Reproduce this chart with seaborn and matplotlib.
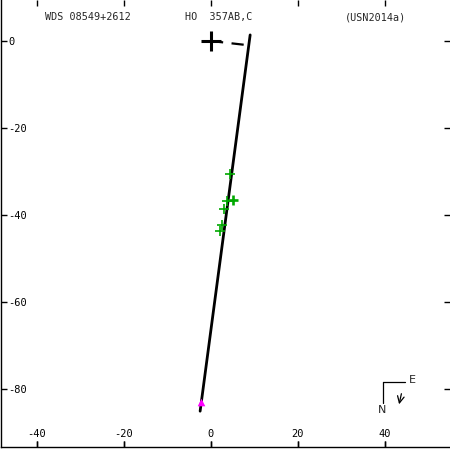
import matplotlib
matplotlib.use("Agg")
import matplotlib.pyplot as plt
import seaborn as sns
import pandas as pd

# ---- data (arcsec-like offsets) ----
orbit_x = [9.0, 0.9, -2.5]
orbit_y = [1.4, -59.5, -85.1]

node_x = [0.0, 8.8]
node_y = [0.0, -1.0]

obs_x = [4.4, 3.75, 3.0, 2.6, 2.1]
obs_y = [-30.6, -36.7, -38.6, -42.3, -43.7]
bold_x = [5.0]
bold_y = [-36.6]

last_x = [-2.3]
last_y = [-82.9]

xticks = [-40, -20, 0, 20, 40]
yticks = [0, -20, -40, -60, -80]

title_left = "WDS 08549+2612"
title_mid = "HO  357AB,C"
title_right = "(USN2014a)"

sns.set_theme(style="white", rc={"xtick.bottom": True, "ytick.left": True})
plt.rcParams["font.family"] = ["DejaVu Sans Mono", "DejaVu Sans"]
plt.rcParams["axes.unicode_minus"] = False

W = H = 450
fig = plt.figure(figsize=(4.5, 4.5), dpi=100)
ax = fig.add_axes([1 / W, 3 / H, 449 / W, 447 / H])


def fpx(x, y):
    """image pixel -> figure fraction"""
    return x / W, 1 - y / H


orbit = pd.DataFrame({"x": orbit_x, "y": orbit_y})
sns.lineplot(data=orbit, x="x", y="y", sort=False, estimator=None,
             color="black", lw=2.0, ax=ax)
ax.plot(node_x, node_y, color="black", lw=1.6, dashes=(5.5, 3.8))

sns.scatterplot(x=obs_x, y=obs_y, marker="+", s=50, color="#00a800",
                linewidth=1.2, ax=ax, zorder=4)
sns.scatterplot(x=bold_x, y=bold_y, marker="+", s=55, color="#00a800",
                linewidth=1.9, ax=ax, zorder=4)
sns.scatterplot(x=last_x, y=last_y, marker="^", s=30, color="#ff00ff",
                linewidth=0, ax=ax, zorder=5)
ax.plot([0], [0], marker="+", ms=15, mew=2.2, color="black", zorder=6)

# bottom tick marks drawn as a rug along the x axis (inward)
sns.rugplot(x=xticks, height=0.014, color="black", lw=1.0, ax=ax,
            clip_on=False, zorder=10)

ax.set_xlim((1 - 211) / 4.35, (450 - 211) / 4.35)
ax.set_ylim((41 - 447) / 4.35, 41 / 4.35)
ax.set_xticks(xticks)
ax.set_xticklabels([str(v) for v in xticks])
ax.set_yticks(yticks)
ax.set_yticklabels([str(v) for v in yticks])
ax.set_xlabel("")
ax.set_ylabel("")

for side in ["top", "right"]:
    ax.spines[side].set_visible(False)
for side in ["left", "bottom"]:
    ax.spines[side].set_color("black")
    ax.spines[side].set_linewidth(1.0)

ax.xaxis.set_ticks_position("both")
ax.yaxis.set_ticks_position("both")
ax.tick_params(axis="both", which="major", direction="in", length=4.5, width=1.0,
               color="black", labelsize=7.5, labelcolor="black")
ax.tick_params(axis="y", pad=-5)
ax.tick_params(axis="x", pad=-6)
for lab in ax.get_yticklabels():
    lab.set_horizontalalignment("left")
for lab in ax.get_xticklabels():
    lab.set_verticalalignment("bottom")

# header
fig.text(*fpx(45, 17), title_left, fontsize=7.3, ha="left", va="center")
fig.text(*fpx(185, 17), title_mid, fontsize=7.3, ha="left", va="center")
fig.text(*fpx(345, 17), title_right, fontsize=7.3, ha="left", va="center")

# compass
fig.add_artist(plt.Line2D(*zip(fpx(382.5, 381.5), fpx(405, 381.5)),
                          transform=fig.transFigure, color="black", lw=0.9))
fig.add_artist(plt.Line2D(*zip(fpx(382.5, 381.5), fpx(382.5, 403)),
                          transform=fig.transFigure, color="black", lw=0.9))
fig.text(*fpx(412, 380), "E", fontsize=8, ha="center", va="center",
         family="DejaVu Sans")
fig.text(*fpx(382.5, 410), "N", fontsize=8, ha="center", va="center",
         family="DejaVu Sans")
ax.annotate("", xy=fpx(398.5, 407), xytext=fpx(402, 391),
            xycoords="figure fraction", textcoords="figure fraction",
            arrowprops=dict(arrowstyle="->", lw=0.9, color="black"))

fig.savefig("out.png", dpi=100)
